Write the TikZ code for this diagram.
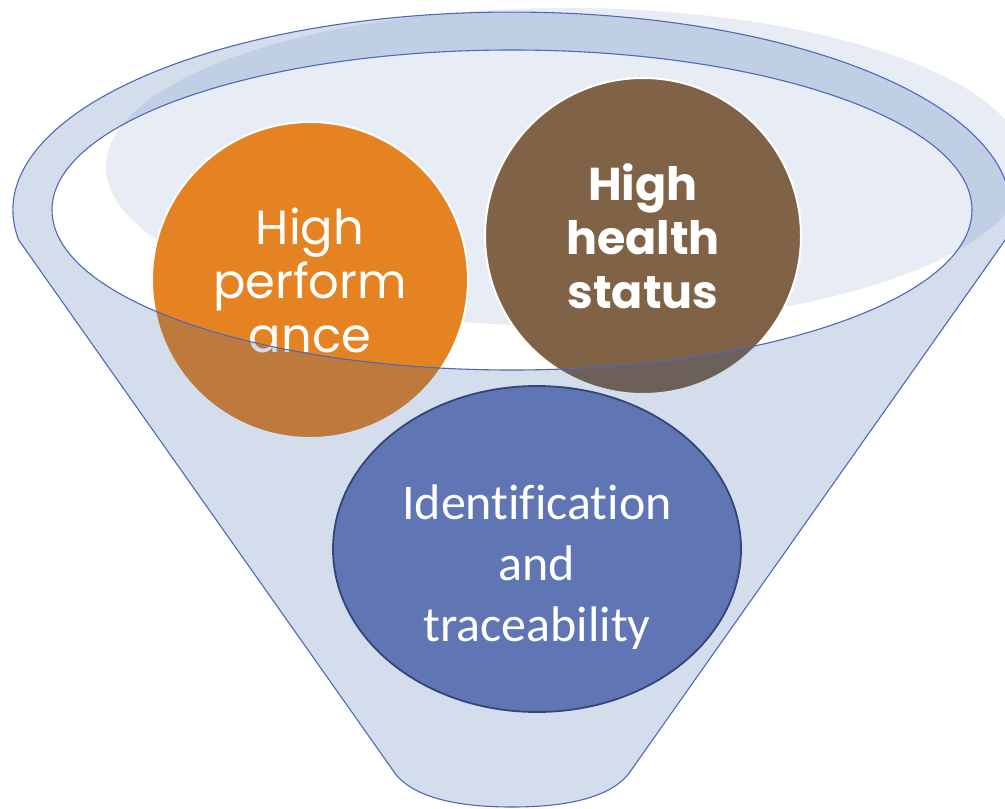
\documentclass[tikz,border=0pt]{standalone}
\usepackage{fontspec}
\usetikzlibrary{shapes.geometric}
\newfontfamily\gothic{Poppins}
\newfontfamily\calib[Ligatures=NoCommon]{Carlito}
\definecolor{funnelblue}{RGB}{34,86,160}
\definecolor{lineblue}{RGB}{78,104,186}
\definecolor{orangec}{RGB}{229,131,35}
\definecolor{brownc}{RGB}{128,99,70}
\definecolor{idfill}{RGB}{95,117,180}
\definecolor{idline}{RGB}{52,69,122}
\tikzset{
  ball/.style={circle, draw=white, line width=1pt, minimum size=158pt, inner sep=0pt, text=white, align=center},
  rim/.style={draw=lineblue, line width=0.55pt},
}
\begin{document}
\begin{tikzpicture}[x=0.5pt,y=-0.5pt]
\useasboundingbox (0,0) rectangle (1005,808);
\clip (0,0) rectangle (1005,808);
% back shadow of the rim
\fill[funnelblue, opacity=0.11] (566,167) ellipse [x radius=460, y radius=159];
% circles
\node[ball, fill=orangec, font=\gothic\fontsize{24}{27}\selectfont] (perf) at (310,280) {High\\perform\\ance};
\node[ball, fill=brownc, font=\gothic\bfseries\fontsize{23}{27}\selectfont] (health) at (643,236) {High\\health\\status};
% funnel front body (with the opening cut out)
\fill[funnelblue, opacity=0.2, even odd rule]
  (392,769) -- (18.7,240) arc[start angle=171.3, end angle=368.7, x radius=499, y radius=198]
  -- (632,769) .. controls (616,795) and (574,807) .. (512,807) .. controls (450,807) and (408,795) .. (392,769) -- cycle
  (512,210) ellipse [x radius=460, y radius=160];
% outlines
\draw[rim] (392,769) -- (18.7,240) arc[start angle=171.3, end angle=368.7, x radius=499, y radius=198]
  -- (632,769) .. controls (616,795) and (574,807) .. (512,807) .. controls (450,807) and (408,795) .. (392,769) -- cycle;
\draw[rim] (512,210) ellipse [x radius=460, y radius=160];
% bottom ellipse
\node[ellipse, fill=idfill, draw=idline, line width=0.9pt, minimum width=204pt, minimum height=163pt, inner sep=0pt] (ident) at (537,549) {};
\node[text=white, align=center, font=\calib\fontsize{25}{30.5}\selectfont] (identtext) at (537,567) {Identification\\and\\traceability};
\end{tikzpicture}
\end{document}
